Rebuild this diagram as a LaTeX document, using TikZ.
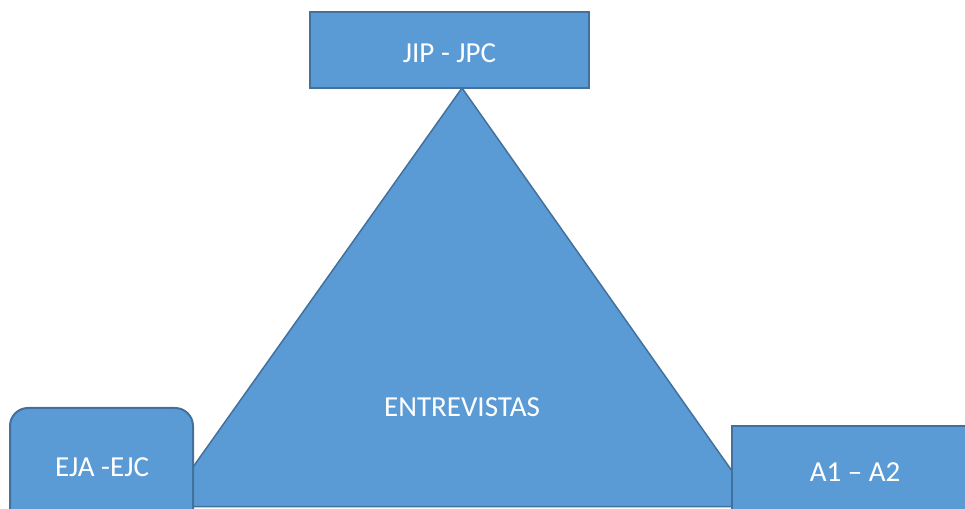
\documentclass[tikz,border=0pt]{standalone}
\usepackage{fontspec}
\setmainfont{Carlito}
\definecolor{boxfill}{HTML}{5B9BD5}
\definecolor{boxline}{HTML}{41719C}
\begin{document}
\begin{tikzpicture}[x=1pt,y=1pt,
  shapebox/.style={draw=boxline, fill=boxfill, line width=2pt, text=white, inner sep=0pt, anchor=center},
  lbl/.style={text=white, font=\fontsize{29}{34}\selectfont, inner sep=0pt}]
\useasboundingbox (0,0) rectangle (965,508);
\begin{scope}
\clip (0,0) rectangle (965,508);
% triangle
\coordinate (apex) at (462,420);
\coordinate (bl) at (165,1.5);
\coordinate (br) at (757,1.5);
\draw[draw=boxline, fill=boxfill, line width=1.5pt, line join=miter] (apex) -- (br) -- (bl) -- cycle;
\node[lbl] (entre) at (462,101) {ENTREVISTAS};
% top box
\node[shapebox, minimum width=279pt, minimum height=76pt] (top) at (449.5,458) {};
\node[lbl] (toplbl) at (449.5,455) {JIP - JPC};
% left rounded box
\draw[draw=boxline, fill=boxfill, line width=2pt, rounded corners=18pt] (10,-20) rectangle (193,100);
\node[lbl] (left) at (102,41) {EJA -EJC};
% right box
\node[shapebox, minimum width=250pt, minimum height=120pt] (right) at (857,22) {};
\node[lbl] (rightlbl) at (855,36) {A1 – A2};
\end{scope}
\end{tikzpicture}
\end{document}
